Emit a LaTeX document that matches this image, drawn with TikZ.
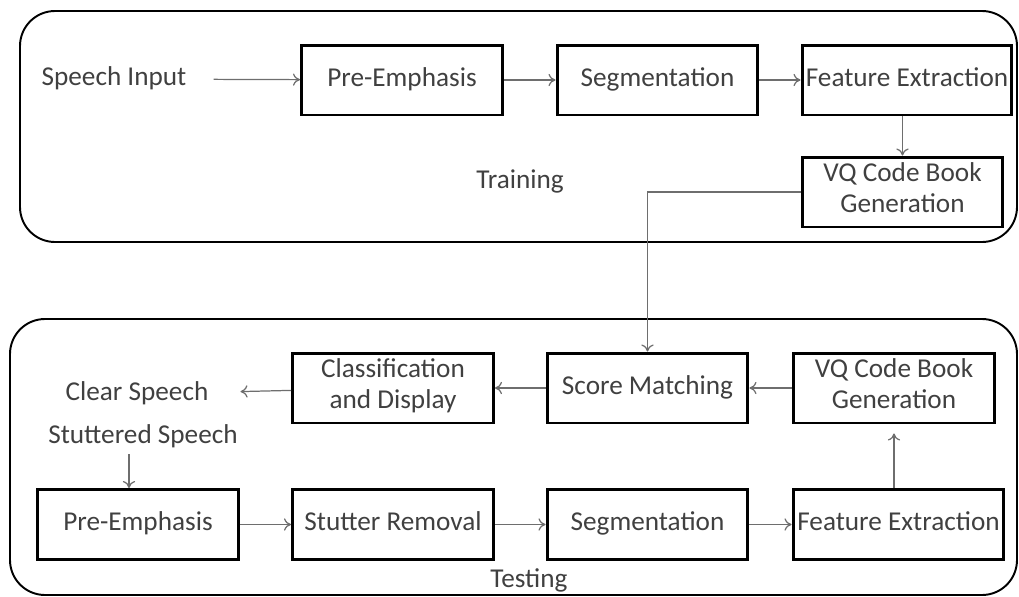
\documentclass[tikz,border=0pt]{standalone}
\usepackage{fontspec}
\setmainfont{Carlito}
\usetikzlibrary{arrows.meta,positioning}

\definecolor{txtgray}{RGB}{64,64,64}
\definecolor{arrgray}{RGB}{110,110,110}

\begin{document}
\begin{tikzpicture}[
      x=0.02cm, y=-0.02cm,
      mybox/.style={
         rectangle,
         draw=black,
         line width=1.7pt,
         text=txtgray,
         align=center,
         inner sep=0pt,
         minimum width=4.02cm,
         minimum height=1.4cm,
         execute at begin node=\strut,
         execute at end node=\strut,
         font=\fontsize{15.5}{17.5}\selectfont},
      mytext/.style={
         rectangle,
         text=txtgray,
         inner sep=1pt,
         execute at begin node=\strut,
         font=\fontsize{15.5}{17.5}\selectfont},
      myframe/.style={
         draw=black,
         line width=1.1pt,
         rounded corners=0.7cm},
      myarrow/.style={-{To[length=4pt,width=7pt]}, draw=arrgray, line width=0.7pt}
      ]
      \useasboundingbox (0,0) rectangle (1019,596);
      % the two frames
      \draw[myframe] (20,11) rectangle (1017,242);
      \draw[myframe] (10,319) rectangle (1017,595);
      % training
      \node[mytext] (in1) at (114,79) {Speech Input};
      \node[mybox] (pre1) at (402,80) {Pre-Emphasis};
      \node[mybox] (seg1) at (657.5,80) {Segmentation};
      \node[mybox,minimum width=4.2cm] (feat1) at (907,80) {Feature Extraction};
      \node[mybox] (vq1) at (902.5,192) {VQ Code Book\\Generation};
      \node[mytext] (train) at (520,182) {Training};
      % testing
      \node[mybox] (cls) at (393,388) {Classification\\and Display};
      \node[mybox] (score) at (647.5,388) {Score Matching};
      \node[mybox] (vq2) at (894,388) {VQ Code Book\\Generation};
      \node[mytext] (clr) at (137,394) {Clear Speech};
      \node[mytext] (stt) at (143,437) {Stuttered Speech};
      \node[mybox] (pre2) at (138,524.5) {Pre-Emphasis};
      \node[mybox] (stut) at (393,524.5) {Stutter Removal};
      \node[mybox] (seg2) at (647.5,524.5) {Segmentation};
      \node[mybox,minimum width=4.22cm] (feat2) at (898.5,524.5) {Feature Extraction};
      \node[mytext] (test) at (529,581) {Testing};
    \foreach \i/\j in {% start node/end node
      pre1/seg1,
      seg1/feat1,
      vq2/score,
      score/cls,
      pre2/stut,
      stut/seg2,
      seg2/feat2}
       \draw [myarrow] (\i) -- (\j);
     % arrows with a gap or a bend
     \draw [myarrow,shorten <=0.5cm] (in1) -- (pre1);
     \draw [myarrow,shorten >=0.6cm] (cls) -- (clr);
     \draw [myarrow] (vq1.north |- feat1.south) -- (vq1.north);
     \draw [myarrow] (vq1.west) -| (score.north);
     \draw [myarrow,shorten >=0.18cm] (vq2.south |- feat2.north) -- (vq2.south);
     \draw [myarrow] ([xshift=-0.28cm]stt.south) -- ([xshift=-0.28cm]stt.south |- pre2.north);
\end{tikzpicture}
\end{document}
